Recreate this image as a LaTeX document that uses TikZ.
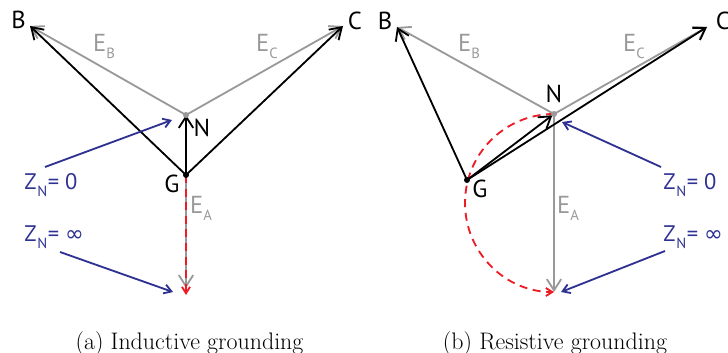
\documentclass[tikz,border=0pt]{standalone}
\usepackage{fontspec}
\setsansfont{PT Sans}
\newfontfamily\symfont{DejaVu Sans}
\usetikzlibrary{arrows.meta}
\definecolor{Phase}{gray}{0.6}
\definecolor{Zblue}{RGB}{46,49,146}
\definecolor{Fault}{RGB}{237,28,36}
\newcommand{\subtxt}[1]{\raisebox{-.55ex}{\fontsize{10.5}{10.5}\selectfont #1}}
\newcommand{\zlabel}[1]{Z\kern.04em\subtxt{N}\kern.02em= #1}

\begin{document}
\begin{tikzpicture}[x=0.025cm,y=0.025cm,
    volt/.style={line width=1.3pt,-{Straight Barb[length=2.8mm,width=3.6mm]}},
    phase/.style={Phase,line width=1.3pt,-{Straight Barb[length=2.8mm,width=3.6mm]}},
    fault/.style={Fault,line width=1.3pt,dash pattern=on 2mm off 1.4mm,-{Straight Barb[length=1.6mm,width=2mm]}},
    zarrow/.style={Zblue,line width=1.3pt,-{Straight Barb[length=1.8mm,width=2.3mm]}},
    lbl/.style={anchor=base,inner sep=0pt,font=\sffamily\fontsize{17.5}{20}\selectfont},
    elbl/.style={lbl,text=Phase},
    zlbl/.style={anchor=base west,inner sep=0pt,text=Zblue,font=\sffamily\fontsize{16}{19}\selectfont},
    caption/.style={anchor=base,inner sep=0pt,font=\fontsize{17}{20}\selectfont}]
  \useasboundingbox (0,0) rectangle (728,-353);
  \coordinate (nA) at (186,-115);
  \coordinate (gA) at (186,-175);
  \coordinate (bA) at (30,-26);
  \coordinate (cA) at (343,-26);
  \coordinate (aA) at (186,-288);
  \coordinate (fA) at (186,-295);
  \draw[phase] (nA)--(bA);
  \draw[phase] (nA)--(cA);
  \draw[phase] (nA)--(aA);
  \draw[fault] (gA)--(fA);
  \draw[volt] (gA)--(bA);
  \draw[volt] (gA)--(cA);
  \draw[volt] (gA)--(nA);
  \fill[Phase] (nA) circle[radius=3];
  \fill (gA) circle[radius=3];
  \node[lbl] (labBA) at (18.5,-29) {B};
  \node[lbl] (labCA) at (355,-30) {C};
  \node[lbl] (labNA) at (202,-137) {N};
  \node[lbl] (labGA) at (172,-193) {G};
  \node[elbl] (labEBA) at (104,-52) {E\subtxt{B}};
  \node[elbl] (labECA) at (267,-52) {E\subtxt{C}};
  \node[elbl] (labEAA) at (201,-214) {E\subtxt{A}};
  \node[zlbl] (zeroA) at (24,-190) {\zlabel{0}};
  \node[zlbl] (infA) at (24,-242) {\zlabel{{\symfont ∞}}};
  \coordinate (zsA) at (45,-167);
  \coordinate (ztA) at (172,-120);
  \coordinate (isA) at (60,-252);
  \coordinate (itA) at (173,-292);
  \draw[zarrow] (zsA)--(ztA);
  \draw[zarrow] (isA)--(itA);
  \node[caption] (capA) at (189.5,-349) {(a) Inductive grounding};
  \coordinate (nB) at (554,-114);
  \coordinate (gB) at (467,-180);
  \coordinate (bB) at (397,-27);
  \coordinate (cB) at (707,-27);
  \coordinate (aB) at (554,-292);
  \draw[phase] (nB)--(bB);
  \draw[phase] (nB)--(cB);
  \draw[phase] (nB)--(aB);
  \draw[fault] (nB) arc[start angle=90,end angle=270,radius=89];
  \draw[volt] (gB)--(bB);
  \draw[volt] (gB)--(cB);
  \draw[volt,shorten >=1.5pt] (gB)--(nB);
  \fill[Phase] (nB) circle[radius=3];
  \fill (gB) circle[radius=3];
  \node[lbl] (labBB) at (385,-30) {B};
  \node[lbl] (labCB) at (723,-30) {C};
  \node[lbl] (labNB) at (554,-103) {N};
  \node[lbl] (labGB) at (480,-198) {G};
  \node[elbl] (labEBB) at (469,-52) {E\subtxt{B}};
  \node[elbl] (labECB) at (634,-52) {E\subtxt{C}};
  \node[elbl] (labEAB) at (568,-214) {E\subtxt{A}};
  \node[zlbl] (zeroB) at (663,-190) {\zlabel{0}};
  \node[zlbl] (infB) at (663,-242) {\zlabel{{\symfont ∞}}};
  \coordinate (zsB) at (661,-167);
  \coordinate (ztB) at (562,-122);
  \coordinate (isB) at (665,-251);
  \coordinate (itB) at (561,-292);
  \draw[zarrow] (zsB)--(ztB);
  \draw[zarrow] (isB)--(itB);
  \node[caption] (capB) at (555,-349) {(b) Resistive grounding};
\end{tikzpicture}
\end{document}
